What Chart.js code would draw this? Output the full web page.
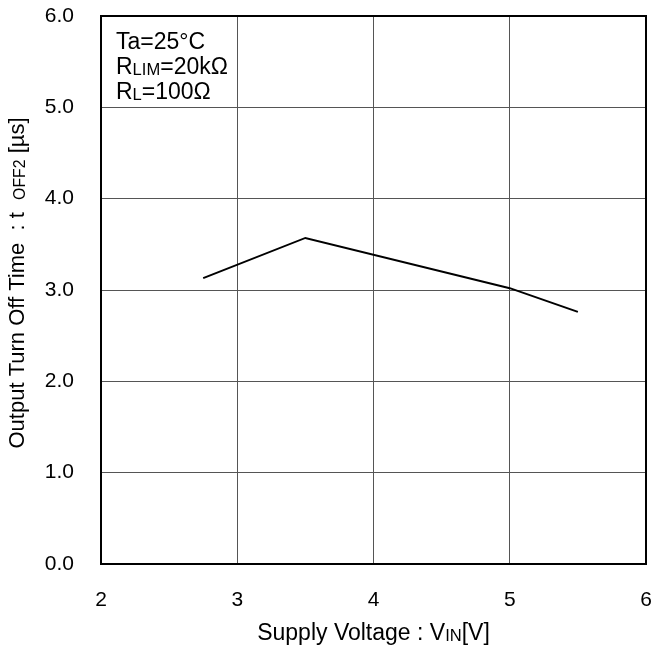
<!DOCTYPE html>
<html>
<head>
<meta charset="utf-8">
<script src="https://cdn.jsdelivr.net/npm/chart.js@4.4.1/dist/chart.umd.min.js"></script>
<style>
  html, body { margin: 0; padding: 0; background: #fff; }
  #wrap { width: 656px; height: 647px; }
</style>
</head>
<body>
<div id="wrap"><canvas id="c" width="656" height="647"></canvas></div>
<script>
// supply voltage (V) vs output turn off time (us)
var voltage = [2.75, 3.5, 5.0, 5.5];
var toff = [3.13, 3.57, 3.02, 2.76];
var xTicks = [2, 3, 4, 5, 6];
var yTicks = [0, 1, 2, 3, 4, 5, 6];

var FONT = '"Liberation Sans", Arial, sans-serif';

// draws text with subscript parts at (0,0) of current transform
function richText(ctx, parts, size, align) {
  var total = 0;
  parts.forEach(function(p) {
    ctx.font = (p.sub ? size * 0.72 : size) + 'px ' + FONT;
    p.w = ctx.measureText(p.t).width;
    total += p.w;
  });
  var x = align === 'left' ? 0 : -total / 2;
  ctx.textBaseline = 'alphabetic';
  ctx.textAlign = 'left';
  parts.forEach(function(p) {
    ctx.font = (p.sub ? size * 0.72 : size) + 'px ' + FONT;
    ctx.fillText(p.t, x, p.sub ? 1 : 0);
    x += p.w;
  });
}

var labelsPlugin = {
  id: 'labels',
  afterDraw: function(chart) {
    var ctx = chart.ctx;
    var a = chart.chartArea;
    ctx.save();
    ctx.fillStyle = '#000';

    // x title
    ctx.save();
    ctx.translate((a.left + a.right) / 2, 640);
    richText(ctx, [{t: 'Supply Voltage : V'}, {t: 'IN', sub: true}, {t: '[V]'}], 23);
    ctx.restore();

    // y title
    ctx.save();
    ctx.translate(24, 283);
    ctx.rotate(-Math.PI / 2);
    richText(ctx, [{t: 'Output Turn Off Time  : t  '}, {t: 'OFF2', sub: true}, {t: ' [\u00b5s]'}], 22);
    ctx.restore();

    // conditions
    ctx.save();
    ctx.translate(a.left + 15, 49);
    richText(ctx, [{t: 'Ta=25\u00b0C'}], 23, 'left');
    ctx.translate(0, 25);
    richText(ctx, [{t: 'R'}, {t: 'LIM', sub: true}, {t: '=20k\u03a9'}], 23, 'left');
    ctx.translate(0, 25);
    richText(ctx, [{t: 'R'}, {t: 'L', sub: true}, {t: '=100\u03a9'}], 23, 'left');
    ctx.restore();

    // frame
    ctx.strokeStyle = '#000';
    ctx.lineWidth = 2;
    ctx.strokeRect(a.left, a.top, a.right - a.left, a.bottom - a.top);
    ctx.restore();
  }
};

function noPad(s) {
  s.paddingTop = 0; s.paddingBottom = 0; s.paddingLeft = 0; s.paddingRight = 0;
}

var points = voltage.map(function(v, i) { return {x: v, y: toff[i]}; });

new Chart(document.getElementById('c'), {
  type: 'line',
  data: {
    datasets: [{
      data: points,
      borderColor: '#000',
      borderWidth: 2,
      pointRadius: 0,
      tension: 0,
      fill: false
    }]
  },
  options: {
    responsive: false,
    animation: false,
    layout: { padding: { top: 16, right: 10, left: 0, bottom: 0 } },
    plugins: { legend: { display: false }, tooltip: { enabled: false } },
    scales: {
      x: {
        type: 'linear',
        min: 2, max: 6,
        afterFit: function(s) { s.height = 83; noPad(s); },
        afterBuildTicks: function(s) { s.ticks = xTicks.map(function(v) { return {value: v}; }); },
        grid: { color: '#555', lineWidth: 1, drawTicks: false },
        border: { display: false },
        ticks: { color: '#000', font: { family: FONT, size: 21 }, padding: 24, maxRotation: 0 }
      },
      y: {
        min: 0, max: 6,
        afterFit: function(s) { s.width = 101; noPad(s); },
        afterBuildTicks: function(s) { s.ticks = yTicks.map(function(v) { return {value: v}; }); },
        grid: { color: '#555', lineWidth: 1, drawTicks: false },
        border: { display: false },
        ticks: {
          color: '#000', font: { family: FONT, size: 21 }, padding: 27,
          callback: function(v) { return v.toFixed(1); }
        }
      }
    }
  },
  plugins: [labelsPlugin]
});
</script>
</body>
</html>
